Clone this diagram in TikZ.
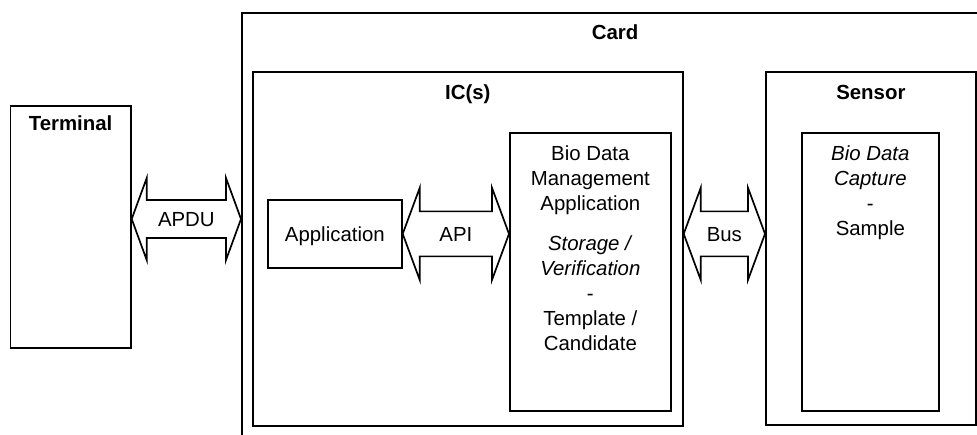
\documentclass[tikz,border=0pt]{standalone}
\usepackage{fontspec}
\setmainfont{Liberation Sans}
\usetikzlibrary{positioning,calc}

% fat double-headed arrow: from, to, shaft half height, head half height, head length
\newcommand{\fatarrow}[5]{%
  \draw[line width=0.85pt, line join=miter] (#1) -- ++(#5,-#4) -- ++(0,#4-#3)
    -- ($(#2)+(-#5,-#3)$) -- ++(0,#3-#4) -- (#2) -- ++(-#5,#4) -- ++(0,#3-#4)
    -- ($(#1)+(#5,#3)$) -- ++(0,#4-#3) -- cycle;}

\begin{document}
\begin{tikzpicture}[
x=0.5pt, y=-0.5pt,
font=\fontsize{10.2}{12.5}\selectfont,
box/.style={draw, line width=0.85pt, anchor=north west, inner sep=0pt},
lbl/.style={inner sep=0pt, text height=7.2pt, text depth=0pt},
head/.style={lbl, font=\fontsize{10.2}{12.5}\selectfont\bfseries},
txt/.style={inner sep=0pt, align=center, anchor=north}]
    \useasboundingbox (0,0) rectangle (977,434);
    \clip (0,0) rectangle (977,434);

    % Boxes
    \node[box, minimum width=60.25pt, minimum height=121pt] (term) at (9.5,105) {};
    \node[box, minimum width=400pt, minimum height=240pt] (card) at (241,12) {};
    \node[box, minimum width=215pt, minimum height=177pt] (ic) at (252,71) {};
    \node[box, minimum width=105pt, minimum height=176.5pt] (sensor) at (765,71) {};
    \node[box, minimum width=67pt, minimum height=34pt] (app) at (267,199) {};
    \node[box, minimum width=80.5pt, minimum height=139pt] (bio) at (509,132) {};
    \node[box, minimum width=68.5pt, minimum height=139pt] (sample) at (801,132) {};

    % Titles
    \node[head] (cardlbl) at (615,32) {Card};
    \node[head, anchor=north, below=5.4pt of term.north] (termlbl) {Terminal};
    \node[head, anchor=north, below=6.9pt of ic.north] (iclbl) {IC(s)};
    \node[head, anchor=north, below=6.9pt of sensor.north] (sensorlbl) {Sensor};
    \node[lbl] (applbl) at (app.center) {Application};

    \node[txt, below=6.5pt of bio.north] (biotxt) {Bio Data\\Management\\Application\\[7.5pt]
        \textit{Storage /}\\\textit{Verification}\\-\\Template /\\Candidate};
    \node[txt, below=6.5pt of sample.north] (sampletxt) {\textit{Bio Data}\\\textit{Capture}\\-\\Sample};

    % Interfaces
    \coordinate (apduL) at (term.east |- 0,219);
    \coordinate (apduR) at (card.west |- 0,219);
    \coordinate (apiL) at (app.east);
    \coordinate (apiR) at (app.east -| bio.west);
    \coordinate (busL) at (app.east -| ic.east);
    \coordinate (busR) at (app.east -| sensor.west);

    \fatarrow{apduL}{apduR}{19}{41}{15}
    \fatarrow{apiL}{apiR}{22.5}{46}{17}
    \fatarrow{busL}{busR}{22.5}{46}{17}

    \node[lbl] (apdulbl) at ($(apduL)!0.5!(apduR)$) {APDU};
    \node[lbl] (apilbl) at ($(apiL)!0.5!(apiR)$) {API};
    \node[lbl] (buslbl) at ($(busL)!0.5!(busR)$) {Bus};
\end{tikzpicture}
\end{document}
